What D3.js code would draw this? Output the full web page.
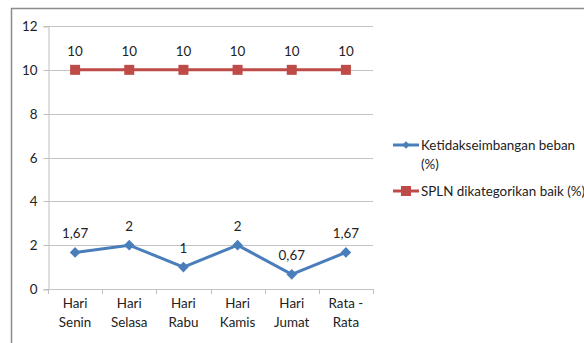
<!DOCTYPE html>
<html><head><meta charset="utf-8">
<script src="https://cdn.jsdelivr.net/npm/d3@7"></script>
<style>body{margin:0;background:#fff}svg{display:block}text{font-family:Lato,"Open Sans",sans-serif;fill:#222}</style>
</head><body><svg id="c" width="584" height="343"></svg>
<script>
const categories = [["Hari","Senin"],["Hari","Selasa"],["Hari","Rabu"],["Hari","Kamis"],["Hari","Jumat"],["Rata -","Rata"]];
const seriesNames = ["Ketidakseimbangan beban (%)", "SPLN dikategorikan baik (%)"];
const ketidakseimbangan = [1.67, 2, 1, 2, 0.67, 1.67];
const spln = [10, 10, 10, 10, 10, 10];
const yTicks = [0, 2, 4, 6, 8, 10, 12];

(function(){
const svg = d3.select("#c");
const blue = "#4A7EBB", red = "#BE4B48";
const fs = "13.4px";
const pL = 48, pR = 373, pT = 26, pB = 289;
const x = d3.scaleBand().domain(d3.range(categories.length)).range([pL, pR]);
const y = d3.scaleLinear().domain([0, 12]).range([pB, pT]);
const fmt = v => String(v).replace(".", ",");

// frame
svg.append("path").attr("d", `M11.5,343 V8.5 H584`).attr("fill","none").attr("stroke","#8c8c8c").attr("stroke-width",1.5);

// grid
svg.append("g").selectAll("line").data(yTicks).join("line")
  .attr("x1", pL).attr("x2", pR)
  .attr("y1", d => Math.round(y(d)) + 0.5).attr("y2", d => Math.round(y(d)) + 0.5)
  .attr("stroke", "#c4c4c4");

// y axis
const ya = svg.append("g").attr("transform", `translate(${pL + 0.5},0.5)`)
  .call(d3.axisLeft(y).tickValues(yTicks).tickSize(5).tickPadding(6));
ya.select(".domain").attr("stroke", "#bfbfbf");
ya.selectAll(".tick line").attr("stroke", "#bfbfbf");
ya.selectAll(".tick text").style("font-size", fs).attr("fill", "#222");
ya.selectAll(".tick").attr("transform", d => `translate(0,${Math.round(y(d))})`);

// x axis ticks at boundaries
const bounds = d3.range(categories.length + 1).map(i => pL + i * x.bandwidth());
svg.append("g").selectAll("line").data(bounds).join("line")
  .attr("x1", d => Math.round(d) + 0.5).attr("x2", d => Math.round(d) + 0.5)
  .attr("y1", pB).attr("y2", pB + 5).attr("stroke", "#bfbfbf");

// x labels
const xl = svg.append("g").selectAll("text").data(categories).join("text")
  .attr("x", (d, i) => x(i) + x.bandwidth() / 2).attr("y", 308)
  .attr("text-anchor", "middle").style("font-size", fs);
xl.append("tspan").text(d => d[0]);
xl.append("tspan").attr("x", (d, i) => x(i) + x.bandwidth() / 2).attr("dy", 19).text(d => d[1]);

const cx = i => x(i) + x.bandwidth() / 2;
const line = d3.line().x((d, i) => cx(i)).y(d => y(d));

// series
svg.append("path").datum(spln).attr("d", line).attr("fill","none").attr("stroke", red).attr("stroke-width", 3);
svg.append("path").datum(ketidakseimbangan).attr("d", line).attr("fill","none").attr("stroke", blue).attr("stroke-width", 3);

svg.append("g").selectAll("rect").data(spln).join("rect")
  .attr("x", (d, i) => cx(i) - 5).attr("y", d => y(d) - 5).attr("width", 10).attr("height", 10).attr("fill", red);
const diamond = d3.symbol().type(d3.symbolSquare2).size(72);
svg.append("g").selectAll("path").data(ketidakseimbangan).join("path")
  .attr("d", diamond).attr("transform", (d, i) => `translate(${cx(i)},${y(d)}) rotate(45)`).attr("fill", blue);

// data labels
svg.append("g").selectAll("text").data(spln).join("text")
  .attr("x", (d, i) => cx(i)).attr("y", d => y(d) - 14).attr("text-anchor","middle").style("font-size",fs).text(fmt);
svg.append("g").selectAll("text").data(ketidakseimbangan).join("text")
  .attr("x", (d, i) => cx(i)).attr("y", d => y(d) - 14).attr("text-anchor","middle").style("font-size",fs).text(fmt);

// legend
const lg = svg.append("g");
lg.append("line").attr("x1", 393).attr("x2", 419).attr("y1", 145).attr("y2", 145).attr("stroke", blue).attr("stroke-width", 3);
lg.append("path").attr("d", d3.symbol().type(d3.symbolSquare2).size(36)).attr("transform","translate(406,145) rotate(45)").attr("fill", blue);
const t1 = lg.append("text").attr("x", 421).attr("y", 150).style("font-size",fs);
t1.append("tspan").text(seriesNames[0].replace(" (%)", ""));
t1.append("tspan").attr("x", 421).attr("dy", 19).text("(%)");
lg.append("line").attr("x1", 393).attr("x2", 419).attr("y1", 191).attr("y2", 191).attr("stroke", red).attr("stroke-width", 3);
lg.append("rect").attr("x", 401).attr("y", 186).attr("width", 10).attr("height", 10).attr("fill", red);
lg.append("text").attr("x", 421).attr("y", 196).style("font-size",fs).text(seriesNames[1]);
})();
</script></body></html>
